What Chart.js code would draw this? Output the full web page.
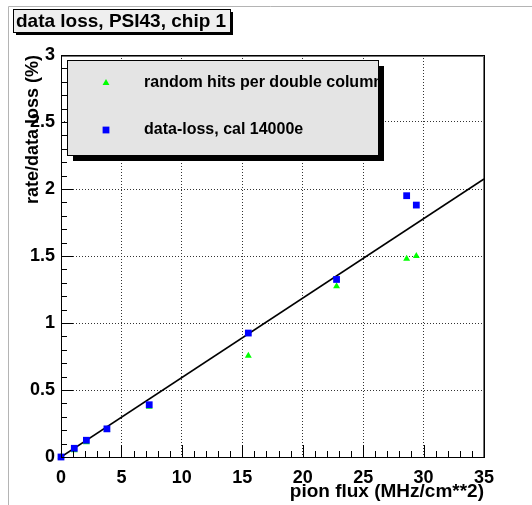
<!DOCTYPE html>
<html>
<head>
<meta charset="utf-8">
<script src="https://cdn.jsdelivr.net/npm/chart.js@4.4.1/dist/chart.umd.min.js"></script>
<style>
  html, body { margin: 0; padding: 0; background: #fff; }
  #wrap { width: 532px; height: 505px; }
</style>
</head>
<body>
<div id="wrap"><canvas id="chart" width="532" height="505"></canvas></div>
<script>
// values
const fluxValues = [0, 1.1, 2.1, 3.8, 7.3, 15.5, 22.8, 28.6, 29.4];
const randomHits = [0, 0.05, 0.11, 0.205, 0.375, 0.755, 1.275, 1.48, 1.50];
const dataLoss   = [0, 0.065, 0.125, 0.21, 0.39, 0.925, 1.325, 1.95, 1.88];
const fitX = [0, 35];
const fitY = [0, 2.075];
const xTicks = [0, 5, 10, 15, 20, 25, 30, 35];
const yTicks = [0, 0.5, 1, 1.5, 2, 2.5, 3];

const FONT = 'Liberation Sans, Arial, Helvetica, sans-serif';

function toPoints(xs, ys) {
  return xs.map((x, i) => ({ x: x, y: ys[i] }));
}

// ROOT-ish look: pad border, frame, inner ticks, legend box and title box
const rootDecor = {
  id: 'rootDecor',
  beforeDraw(chart) {
    const ctx = chart.ctx;
    ctx.save();
    ctx.fillStyle = '#fff';
    ctx.fillRect(0, 0, chart.width, chart.height);
    ctx.strokeStyle = '#b4b4b4';
    ctx.lineWidth = 1;
    ctx.beginPath();
    ctx.moveTo(8.5, chart.height);
    ctx.lineTo(8.5, 6.5);
    ctx.lineTo(chart.width, 6.5);
    ctx.stroke();
    ctx.restore();
  },
  afterDatasetsDraw(chart) {
    const ctx = chart.ctx;
    const a = chart.chartArea;
    const xs = chart.scales.x, ys = chart.scales.y;
    ctx.save();

    // inner tick marks
    ctx.strokeStyle = '#000';
    ctx.lineWidth = 1;
    ctx.beginPath();
    for (let i = 0; i <= 35; i++) {
      const px = Math.round(xs.getPixelForValue(i)) + 0.5;
      const len = i % 5 === 0 ? 12 : 6;
      ctx.moveTo(px, a.bottom);
      ctx.lineTo(px, a.bottom - len);
    }
    for (let i = 0; i <= 30; i++) {
      const py = Math.round(ys.getPixelForValue(i / 10)) + 0.5;
      const len = i % 5 === 0 ? 12 : 6;
      ctx.moveTo(a.left, py);
      ctx.lineTo(a.left + len, py);
    }
    ctx.stroke();

    // frame (top and right look a bit heavier in ROOT output)
    const L = Math.round(a.left) + 0.5, T = Math.round(a.top) + 0.5;
    const R = Math.round(a.right) + 0.5, B = Math.round(a.bottom) + 0.5;
    ctx.strokeRect(L, T, R - L, B - T);
    ctx.strokeStyle = 'rgba(0,0,0,0.55)';
    ctx.beginPath();
    ctx.moveTo(L, T + 1); ctx.lineTo(R - 1, T + 1); ctx.lineTo(R - 1, B);
    ctx.stroke();

    // legend
    const lx = 67, ly = 60, lw = 311, lh = 95;
    ctx.fillStyle = '#000';
    ctx.fillRect(lx + 6, ly + 6, lw, lh);
    ctx.fillStyle = '#e4e4e4';
    ctx.fillRect(lx, ly, lw, lh);
    ctx.strokeStyle = '#000';
    ctx.strokeRect(lx + 0.5, ly + 0.5, lw, lh);

    const entries = [chart.data.datasets[1], chart.data.datasets[0]];
    ctx.save();
    ctx.beginPath();
    ctx.rect(lx, ly, lw, lh);
    ctx.clip();
    entries.forEach((ds, i) => {
      const cy = ly + 23 + i * 47;
      ctx.fillStyle = ds.backgroundColor;
      Chart.helpers.drawPoint(ctx, {
        pointStyle: ds.pointStyle, radius: ds.pointRadius, rotation: 0, borderWidth: 0
      }, 106, cy);
      ctx.fillStyle = '#000';
      ctx.font = 'bold 16px ' + FONT;
      ctx.textBaseline = 'middle';
      ctx.textAlign = 'left';
      ctx.fillText(ds.label, 144, cy);
    });
    ctx.restore();

    // title box
    const tx = 13, ty = 9, tw = 217, th = 23;
    ctx.fillStyle = '#000';
    ctx.fillRect(tx + 3, ty + 3, tw, th);
    ctx.fillStyle = '#efefef';
    ctx.fillRect(tx, ty, tw, th);
    ctx.strokeStyle = '#000';
    ctx.strokeRect(tx + 0.5, ty + 0.5, tw, th);
    ctx.fillStyle = '#000';
    ctx.font = 'bold 19px ' + FONT;
    ctx.textBaseline = 'middle';
    ctx.textAlign = 'left';
    ctx.fillText('data loss, PSI43, chip 1', tx + 3, ty + th / 2 + 1);

    ctx.restore();
  }
};

const gridColor = (c) => (c.tick && (c.tick.value === 0 || c.index === 0)) ? 'rgba(0,0,0,0)' : '#333';

new Chart(document.getElementById('chart'), {
  type: 'scatter',
  data: {
    datasets: [
      {
        label: 'data-loss, cal 14000e',
        data: toPoints(fluxValues, dataLoss),
        backgroundColor: '#0000ff',
        pointStyle: 'rect',
        pointRadius: 4.8,
        pointBorderWidth: 0,
        borderWidth: 0,
        clip: false,
        order: 1
      },
      {
        label: 'random hits per double column',
        data: toPoints(fluxValues, randomHits),
        backgroundColor: '#00ff00',
        pointStyle: 'triangle',
        pointRadius: 4,
        pointBorderWidth: 0,
        borderWidth: 0,
        clip: false,
        order: 2
      },
      {
        label: 'fit',
        data: toPoints(fitX, fitY),
        showLine: true,
        borderColor: '#000',
        borderWidth: 1.6,
        pointRadius: 0,
        order: 3
      }
    ]
  },
  options: {
    responsive: false,
    animation: false,
    events: [],
    layout: { padding: { left: 0, top: 55, right: 48, bottom: 0 } },
    plugins: {
      legend: { display: false },
      tooltip: { enabled: false }
    },
    scales: {
      x: {
        type: 'linear',
        min: 0,
        max: 35,
        afterBuildTicks: (s) => { s.ticks = xTicks.map(v => ({ value: v })); },
        afterFit: (s) => { s.height = 48; },
        grid: { color: gridColor, drawTicks: false, lineWidth: 1 },
        border: { display: false, dash: [1, 2] },
        ticks: {
          padding: 10,
          color: '#000',
          font: { family: FONT, size: 18, weight: 'bold' },
          maxRotation: 0,
          callback: (v) => String(v)
        },
        title: {
          display: true,
          text: 'pion flux (MHz/cm**2)',
          align: 'end',
          color: '#000',
          padding: { top: 0, bottom: 2 },
          font: { family: FONT, size: 19, weight: 'bold' }
        }
      },
      y: {
        type: 'linear',
        min: 0,
        max: 3,
        afterBuildTicks: (s) => { s.ticks = yTicks.map(v => ({ value: v })); },
        afterFit: (s) => { s.width = 61; },
        grid: { color: gridColor, drawTicks: false, lineWidth: 1 },
        border: { display: false, dash: [1, 2] },
        ticks: {
          padding: 6,
          color: '#000',
          font: { family: FONT, size: 18, weight: 'bold' },
          callback: (v) => String(v)
        },
        title: {
          display: true,
          text: 'rate/data loss (%)',
          align: 'end',
          color: '#000',
          padding: { top: 22, bottom: 0 },
          font: { family: FONT, size: 18, weight: 'bold' }
        }
      }
    }
  },
  plugins: [rootDecor]
});
</script>
</body>
</html>
